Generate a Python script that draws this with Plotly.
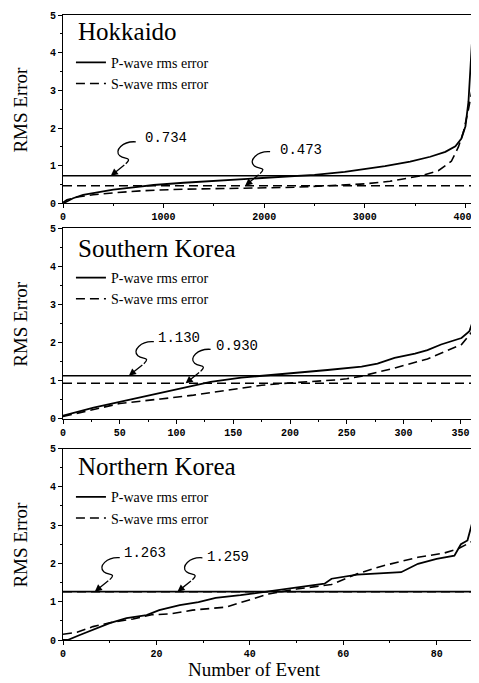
import plotly.graph_objects as go

# ---------------- data ----------------
panel_names = ["Hokkaido", "Southern Korea", "Northern Korea"]
x_ranges = [4085, 362, 88]
x_dticks = [1000, 50, 20]

hk_p_event = [0, 40, 100, 200, 350, 500, 700, 900, 1200, 1500, 1850, 2200, 2500, 2800, 3000, 3200, 3450, 3650, 3800, 3900, 3960, 4000, 4030, 4050, 4065]
hk_p_rms = [0, 0.06, 0.14, 0.23, 0.31, 0.37, 0.43, 0.49, 0.55, 0.60, 0.66, 0.72, 0.76, 0.84, 0.91, 0.99, 1.11, 1.24, 1.37, 1.52, 1.72, 2.05, 2.7, 3.5, 4.3]
hk_s_event = [0, 40, 140, 300, 530, 800, 1190, 1500, 1900, 2300, 2700, 3000, 3250, 3400, 3550, 3730, 3860, 3930, 3980, 4030, 4065]
hk_s_rms = [0.03, 0.10, 0.17, 0.23, 0.29, 0.34, 0.38, 0.40, 0.41, 0.43, 0.47, 0.52, 0.59, 0.66, 0.73, 0.87, 1.12, 1.5, 1.9, 2.5, 3.0]
hk_mean = [0.734, 0.473]

sk_p_event = [0, 10, 27, 57, 86, 110, 130, 157, 181, 204, 233, 263, 277, 292, 310, 321, 333, 351, 358, 362]
sk_p_rms = [0.08, 0.16, 0.29, 0.49, 0.68, 0.83, 0.97, 1.08, 1.14, 1.19, 1.28, 1.37, 1.45, 1.60, 1.71, 1.80, 1.95, 2.12, 2.30, 2.65]
sk_s_event = [0, 20, 50, 86, 115, 145, 175, 204, 225, 240, 250, 263, 292, 321, 351, 362]
sk_s_rms = [0.06, 0.20, 0.40, 0.52, 0.62, 0.75, 0.88, 0.95, 0.98, 1.02, 1.05, 1.12, 1.33, 1.57, 1.95, 2.35]
sk_mean = [1.130, 0.930]

nk_p_event = [0, 1, 3.6, 7, 10, 13.6, 17.9, 20.6, 25, 29, 32.7, 38, 43, 49, 56, 57.5, 63, 72.4, 76, 80, 83.8, 85.2, 86.6, 87.7, 88]
nk_p_rms = [0, 0.0, 0.13, 0.30, 0.44, 0.57, 0.65, 0.78, 0.91, 0.99, 1.10, 1.17, 1.25, 1.34, 1.47, 1.60, 1.71, 1.77, 1.99, 2.12, 2.20, 2.50, 2.60, 3.10, 3.40]
nk_s_event = [0, 3, 6.4, 10, 15, 19, 23, 27.7, 34.9, 40, 44, 50, 55, 57.5, 63, 68.6, 76, 81.6, 84.4, 88]
nk_s_rms = [0.15, 0.20, 0.35, 0.45, 0.55, 0.66, 0.68, 0.78, 0.86, 1.04, 1.20, 1.33, 1.40, 1.45, 1.73, 1.94, 2.16, 2.27, 2.37, 2.60]
nk_mean = [1.263, 1.259]

# event index at which each mean-value arrow points
hk_arrow_event = [475, 1810]
sk_arrow_event = [58, 108]
nk_arrow_event = [6.8, 24.5]

panels = [
    (hk_p_event, hk_p_rms, hk_s_event, hk_s_rms, hk_mean, hk_arrow_event),
    (sk_p_event, sk_p_rms, sk_s_event, sk_s_rms, sk_mean, sk_arrow_event),
    (nk_p_event, nk_p_rms, nk_s_event, nk_s_rms, nk_mean, nk_arrow_event),
]

# ---------------- layout geometry ----------------
# The page body has an 8px margin, so the figure is drawn 8px smaller
# and every target position is given in window pixels minus that offset.
PAGE_OFF = 8
W, H = 479 - PAGE_OFF, 683 - PAGE_OFF
ML, MR, MT, MB = 63 - PAGE_OFF, 2, 10 - PAGE_OFF, 43
PW = W - ML - MR
PH = H - MT - MB


def px_x(win_x):
    return (win_x - PAGE_OFF - ML) / PW


def px_y(win_y):
    return (H - MB - (win_y - PAGE_OFF)) / PH


domains = [[px_y(200), px_y(10)], [px_y(417), px_y(225)], [px_y(640), px_y(447)]]
legend_top = [42, 259, 480]
title_y = [27, 245, 465]
# label shifts (pixels, y up) for mean annotations relative to the arrow tip
label_shift = [
    [(55, 38), (56, 36)],
    [(50, 38), (51, 37)],
    [(50, 39), (51, 35)],
]
# squiggly arrow body, in pixels relative to arrow tip (y up)
SQUIGGLE = "M 25 34 C 12 35, 3 25, 9 20 C 14 16, 22 19, 15 12"
HEAD_TAIL = (15, 12)

SERIF = "Liberation Serif"
MONO = "Liberation Mono"
DASH = "9px,5px"

fig = go.Figure()

for i, (pe, pr, se, sr, means, arr_ev) in enumerate(panels):
    n = i + 1
    xa = "x" if n == 1 else f"x{n}"
    ya = "y" if n == 1 else f"y{n}"
    leg = "legend" if n == 1 else f"legend{n}"
    fig.add_trace(go.Scatter(x=pe, y=pr, mode="lines", name="P-wave rms error",
                             line=dict(color="black", width=1.8),
                             xaxis=xa, yaxis=ya, legend=leg))
    fig.add_trace(go.Scatter(x=se, y=sr, mode="lines", name="S-wave rms error",
                             line=dict(color="black", width=1.6, dash=DASH),
                             xaxis=xa, yaxis=ya, legend=leg))
    # mean lines across the full axis range
    fig.add_trace(go.Scatter(x=[0, x_ranges[i]], y=[means[0], means[0]], mode="lines",
                             line=dict(color="black", width=1.6), showlegend=False,
                             xaxis=xa, yaxis=ya, hoverinfo="skip"))
    fig.add_trace(go.Scatter(x=[0, x_ranges[i]], y=[means[1], means[1]], mode="lines",
                             line=dict(color="black", width=1.5, dash=DASH), showlegend=False,
                             xaxis=xa, yaxis=ya, hoverinfo="skip"))

    axis_common = dict(showline=True, linecolor="black", linewidth=1, mirror=True,
                       ticks="outside", ticklen=4, tickcolor="black", showgrid=False,
                       zeroline=False,
                       tickfont=dict(family=MONO, size=10, color="black", weight="bold"))
    xkey = "xaxis" if n == 1 else f"xaxis{n}"
    ykey = "yaxis" if n == 1 else f"yaxis{n}"
    fig.update_layout({
        xkey: dict(axis_common, domain=[0, 1], range=[0, x_ranges[i]], dtick=x_dticks[i],
                   tick0=0, anchor=ya, ticklabeloverflow="allow",
                   minor=dict(dtick=x_dticks[i] / 2, ticks="outside", ticklen=2, tickcolor="black")),
        ykey: dict(axis_common, domain=domains[i], range=[0, 5], dtick=1, tick0=0, anchor=xa,
                   minor=dict(dtick=0.5, ticks="outside", ticklen=2, tickcolor="black")),
        leg: dict(x=px_x(71), y=px_y(legend_top[i]), xanchor="left", yanchor="top",
                  xref="paper", yref="paper", bgcolor="rgba(0,0,0,0)",
                  font=dict(family=SERIF, size=14, color="black"),
                  itemwidth=30, tracegroupgap=0),
    })

    # panel title
    fig.add_annotation(text=panel_names[i], xref="paper", yref="paper",
                       x=px_x(76), y=px_y(title_y[i]),
                       xanchor="left", yanchor="middle", showarrow=False,
                       font=dict(family=SERIF, size=25, color="black"))
    # y axis title
    fig.add_annotation(text="RMS Error", xref="paper", yref="paper",
                       x=px_x(20), y=(domains[i][0] + domains[i][1]) / 2,
                       xanchor="center", yanchor="middle", textangle=-90, showarrow=False,
                       font=dict(family=SERIF, size=19, color="black"))
    # mean value annotations with squiggly arrows
    for k in range(2):
        sx, sy = label_shift[i][k]
        fig.add_annotation(text=f"{means[k]:.3f}", x=arr_ev[k], y=means[k],
                           xref=xa, yref=ya, xshift=sx, yshift=sy, showarrow=False,
                           xanchor="center", yanchor="middle",
                           font=dict(family=MONO, size=14, color="black"))
        fig.add_shape(type="path", xref=xa, yref=ya, xsizemode="pixel", ysizemode="pixel",
                      xanchor=arr_ev[k], yanchor=means[k], path=SQUIGGLE,
                      line=dict(color="black", width=1.3))
        fig.add_annotation(text="", x=arr_ev[k], y=means[k], xref=xa, yref=ya,
                           ax=HEAD_TAIL[0], ay=-HEAD_TAIL[1], showarrow=True,
                           arrowhead=2, arrowsize=1.1, arrowwidth=1.3, arrowcolor="black")

fig.add_annotation(text="Number of Event", xref="paper", yref="paper",
                   x=px_x(256), y=px_y(670),
                   xanchor="center", yanchor="middle", showarrow=False,
                   font=dict(family=SERIF, size=19, color="black"))

fig.update_layout(width=W, height=H, margin=dict(l=ML, r=MR, t=MT, b=MB),
                  paper_bgcolor="white", plot_bgcolor="white", showlegend=True)

fig.write_html("out.html")
